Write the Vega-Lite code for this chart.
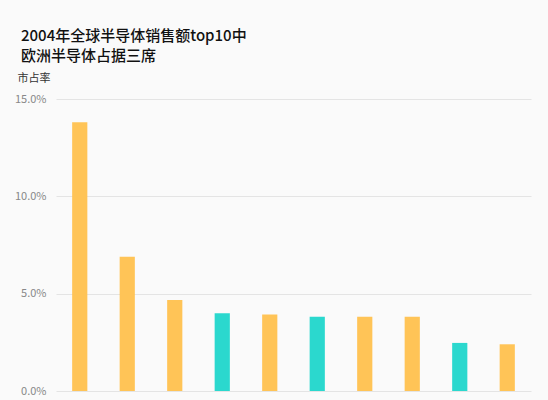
{
  "$schema": "https://vega.github.io/schema/vega-lite/v6.json",
  "width": 475,
  "height": 292,
  "autosize": "none",
  "padding": {"left": 56, "top": 99, "right": 17, "bottom": 9},
  "background": "#FAFAFA",
  "title": {
    "text": ["2004年全球半导体销售额top10中", "欧洲半导体占据三席"],
    "anchor": "start",
    "frame": "group",
    "dx": -35,
    "offset": 8,
    "font": "Noto Sans CJK SC",
    "fontSize": 15,
    "fontWeight": 500,
    "lineHeight": 20,
    "color": "#111111"
  },
  "data": {
    "values": [
      {"company": "Intel", "share": 13.8, "region": "other"},
      {"company": "Samsung", "share": 6.9, "region": "other"},
      {"company": "TI", "share": 4.68, "region": "other"},
      {"company": "Infineon", "share": 4.0, "region": "Europe"},
      {"company": "Renesas", "share": 3.93, "region": "other"},
      {"company": "STMicroelectronics", "share": 3.82, "region": "Europe"},
      {"company": "Toshiba", "share": 3.82, "region": "other"},
      {"company": "NEC", "share": 3.82, "region": "other"},
      {"company": "Philips", "share": 2.47, "region": "Europe"},
      {"company": "Freescale", "share": 2.4, "region": "other"}
    ]
  },
  "mark": {"type": "bar"},
  "encoding": {
    "x": {
      "field": "company",
      "type": "nominal",
      "sort": null,
      "scale": {"paddingInner": 0.68, "paddingOuter": 0.34},
      "axis": null
    },
    "y": {
      "field": "share",
      "type": "quantitative",
      "scale": {"domain": [0, 15]},
      "axis": {
        "values": [0, 5, 10, 15],
        "labelExpr": "format(datum.value, '.1f') + '%'",
        "title": "市占率",
        "titleAngle": 0,
        "titleX": -39,
        "titleY": -18,
        "titleAlign": "left",
        "titleBaseline": "alphabetic",
        "titleFont": "Noto Sans CJK SC",
        "titleFontSize": 11,
        "titleFontWeight": "normal",
        "titleColor": "#333333",
        "labelFont": "Noto Sans CJK SC",
        "labelFontSize": 11,
        "labelColor": "#888888",
        "labelPadding": 10,
        "domain": false,
        "ticks": false,
        "grid": true,
        "gridColor": "#E4E4E4",
        "gridWidth": 1
      }
    },
    "color": {
      "field": "region",
      "type": "nominal",
      "scale": {"domain": ["other", "Europe"], "range": ["#FFC457", "#2BD8CE"]},
      "legend": null
    }
  },
  "config": {"view": {"stroke": null}}
}
